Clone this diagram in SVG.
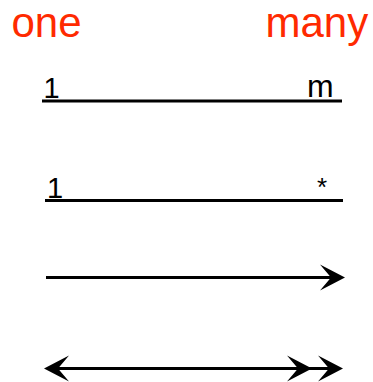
<svg xmlns="http://www.w3.org/2000/svg" xmlns:xlink="http://www.w3.org/1999/xlink" width="373" height="382" viewBox="0 0 373 382">
<style>
.title{font-family:"Liberation Sans",Arial,sans-serif;font-size:42px;fill:#ff2a00}
.lbl{font-family:"Liberation Sans",Arial,sans-serif;font-size:29px;fill:#000}
.ln{stroke:#000;stroke-width:3;fill:none}
.head{fill:#000}
</style>
<defs>
<path id="ar" d="M0,0 L-25,-13 L-14,0 L-25,13 Z"/>
</defs>
<g id="header">
<text class="title" x="11.5" y="37">one</text>
<text class="title" x="265.5" y="37">many</text>
</g>
<g id="labels">
<text class="lbl" x="43.5" y="98">1</text>
<text class="lbl" x="307" y="97" style="font-size:32px">m</text>
<text class="lbl" x="47" y="198">1</text>
<text class="lbl" x="317" y="196" style="font-size:26px">*</text>
</g>
<g id="connectors">
<line class="ln" x1="42" y1="101" x2="342" y2="101"/>
<line class="ln" x1="45" y1="200.5" x2="343" y2="200.5"/>
<line class="ln" x1="46" y1="277.5" x2="335" y2="277.5"/>
<use class="head" xlink:href="#ar" transform="translate(345,277.5)"/>
<line class="ln" x1="54" y1="368.5" x2="335" y2="368.5"/>
<use class="head" xlink:href="#ar" transform="translate(44,368.5) scale(-1,1)"/>
<use class="head" xlink:href="#ar" transform="translate(312,368.5)"/>
<use class="head" xlink:href="#ar" transform="translate(343,368.5)"/>
</g>
</svg>
